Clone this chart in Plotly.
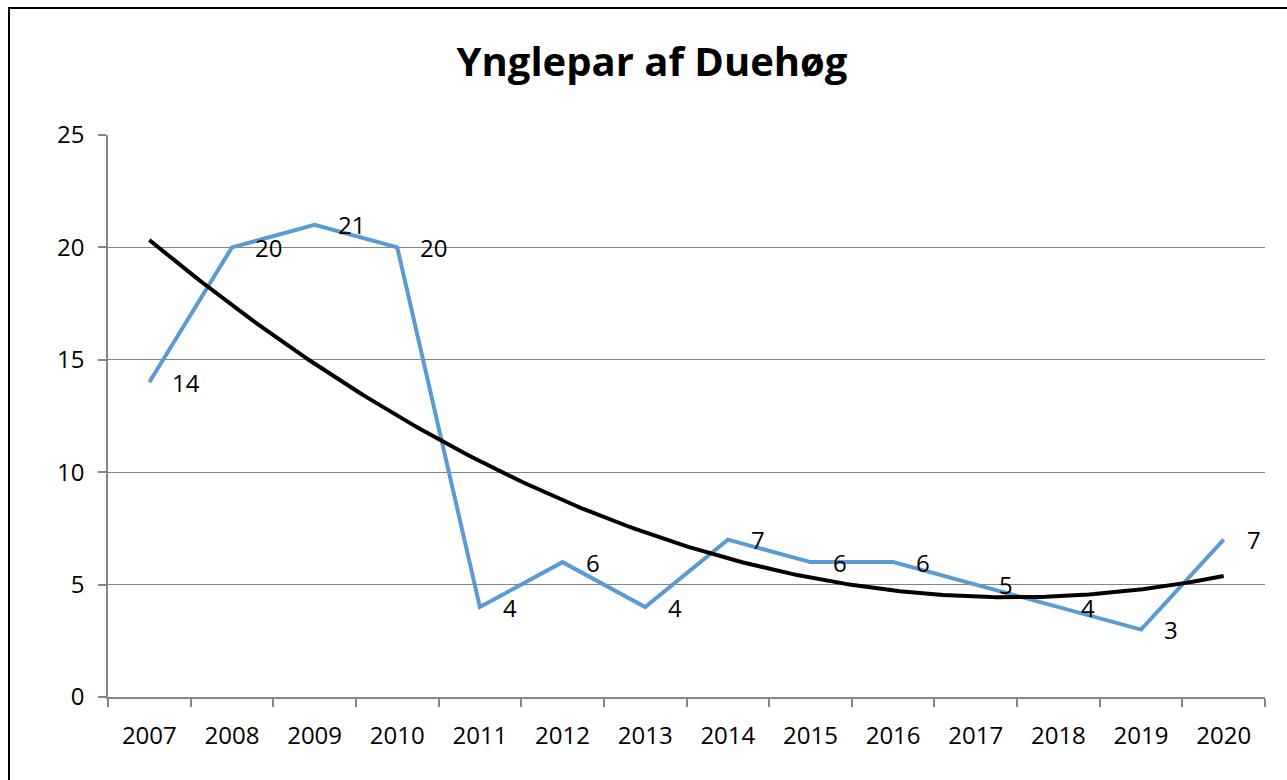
import numpy as np
import plotly.graph_objects as go

years = ["2007", "2008", "2009", "2010", "2011", "2012", "2013",
         "2014", "2015", "2016", "2017", "2018", "2019", "2020"]
pairs = [14, 20, 21, 20, 4, 6, 4, 7, 6, 6, 5, 4, 3, 7]
y_ticks = [0, 5, 10, 15, 20, 25]

W, H = 1287, 780
ML, MR, MT, MB = 108, 22, 135, 83
PW, PH = W - ML - MR, H - MT - MB

FONT = "Open Sans"

# polynomial (order 2) trendline, as in the original spreadsheet chart
idx = np.arange(len(years))
coef = np.polyfit(idx, pairs, 2)
tx = np.linspace(0, len(years) - 1, 200)
ty = np.polyval(coef, tx)

fig = go.Figure()
fig.add_trace(go.Scatter(
    x=years, y=pairs, mode="lines",
    line=dict(color="#5B9BD5", width=4),
    hoverinfo="x+y", showlegend=False,
))
fig.add_trace(go.Scatter(
    x=tx, y=ty, mode="lines", xaxis="x2",
    line=dict(color="#000000", width=4),
    hoverinfo="skip", showlegend=False,
))

for i, v in zip(idx, pairs):
    fig.add_annotation(x=int(i), y=v, xref="x2", yref="y", text=str(v), showarrow=False,
                       xanchor="left", yanchor="middle", xshift=21,
                       font=dict(family=FONT, size=24, color="#000"))

def px_to_paper_x(px):
    return (px - ML) / PW

def px_to_paper_y(py):
    return (H - MB - py) / PH

fig.add_shape(type="rect", xref="paper", yref="paper",
              x0=px_to_paper_x(9), x1=px_to_paper_x(W + 5),
              y0=px_to_paper_y(H + 5), y1=px_to_paper_y(8),
              line=dict(color="#000", width=2), layer="above")

fig.update_layout(
    width=W, height=H,
    margin=dict(l=ML, r=MR, t=MT, b=MB),
    paper_bgcolor="white", plot_bgcolor="white",
    title=dict(text="<b>Ynglepar af Duehøg</b>", x=652 / W, xref="container",
               xanchor="center", y=1 - 62 / H, yref="container", yanchor="middle",
               font=dict(family=FONT, size=40, color="#000")),
    xaxis=dict(type="category", range=[-0.5, len(years) - 0.5],
               showline=True, linecolor="#868686", linewidth=1.5,
               ticks="outside", tickson="boundaries", ticklen=8,
               tickcolor="#868686", tickwidth=1.5,
               showgrid=False, zeroline=False,
               tickfont=dict(family=FONT, size=24, color="#000"),
               ticklabelstandoff=16, fixedrange=True),
    xaxis2=dict(overlaying="x", range=[-0.5, len(years) - 0.5],
                visible=False, fixedrange=True),
    yaxis=dict(range=[0, 25], tickvals=y_ticks,
               showline=True, linecolor="#868686", linewidth=1.5,
               ticks="outside", ticklen=8, tickcolor="#868686", tickwidth=1.5,
               showgrid=True, gridcolor="#868686", gridwidth=1.2,
               zeroline=False,
               tickfont=dict(family=FONT, size=24, color="#000"),
               ticklabelstandoff=9, fixedrange=True),
)

fig.write_html("out.html", config={"displayModeBar": False},
               post_script="document.body.style.margin='0';document.body.style.overflow='hidden';")
